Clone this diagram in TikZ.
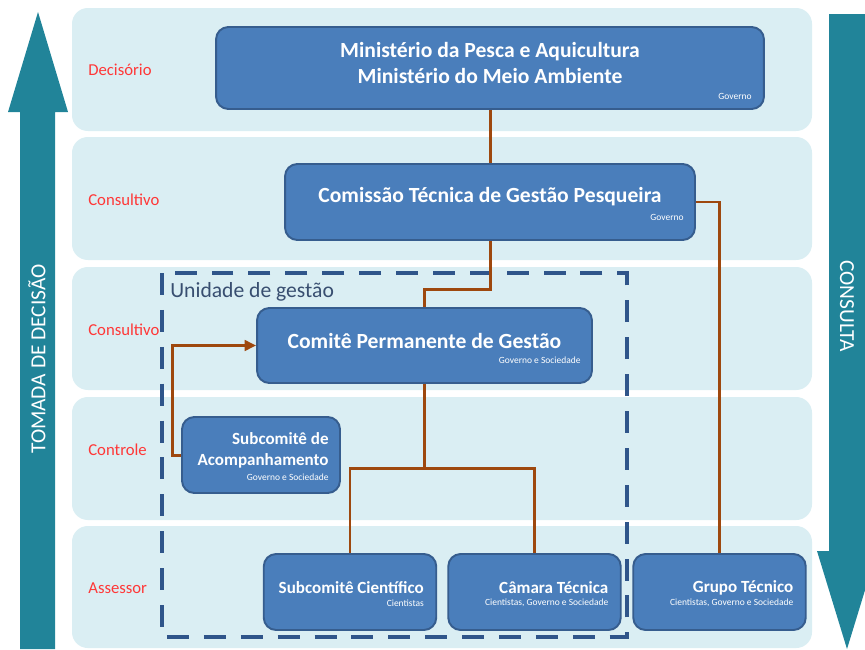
\documentclass[tikz,border=0pt]{standalone}
\usepackage{fontspec}
\setmainfont{Carlito}
\usepackage{tikz}
\usetikzlibrary{arrows.meta}
\definecolor{fundo}{RGB}{218,238,243}
\definecolor{azul}{RGB}{74,126,187}
\definecolor{borda}{RGB}{54,93,142}
\definecolor{seta}{RGB}{33,132,153}
\definecolor{marrom}{RGB}{158,72,14}
\definecolor{tracejado}{RGB}{47,85,138}
\definecolor{vermelho}{RGB}{255,55,55}
\definecolor{ugtexto}{RGB}{56,78,112}
\tikzstyle{faixa}=[fill=fundo, rounded corners=9pt]
\tikzstyle{caixa}=[draw=borda, fill=azul, line width=1.1pt, rounded corners=7pt, inner sep=0pt]
\tikzstyle{titulo}=[text=white, font=\bfseries\fontsize{12.3}{14.7}\selectfont, align=center, inner sep=0pt]
\tikzstyle{nome}=[text=white, font=\bfseries\fontsize{9.7}{11.9}\selectfont, align=right, inner sep=0pt, anchor=east]
\tikzstyle{quem}=[text=white, font=\fontsize{5.4}{6}\selectfont, inner sep=0pt, anchor=east]
\tikzstyle{nivel}=[text=vermelho, font=\fontsize{9.5}{10}\selectfont, inner sep=0pt, anchor=west]
\tikzstyle{lateral}=[text=white, font=\fontsize{12.2}{13}\selectfont, inner sep=0pt]
\tikzstyle{liga}=[draw=marrom, line width=1.7pt]

\begin{document}
\begin{tikzpicture}[x=0.02cm, y=-0.02cm]
    \clip (0,0) rectangle (865,649);

    % Faixas
    \foreach \a/\b in {8/131,137/260,267/390,397/520,526/648}
        \fill[faixa] (72,\a) rectangle (812,\b);

    % Niveis
    \foreach \y/\texto in {70/Decisório,200/Consultivo,330/Consultivo,450/Controle,588/Assessor}
        \node[nivel] (nivel\y) at (88,\y) {\texto};

    % Setas laterais
    \fill[seta] (20,649) -- (20,112) -- (8,112) -- (38,12) -- (68,112) -- (55,112) -- (55,649) -- cycle;
    \node[lateral, rotate=90] (tomada) at (37,359) {TOMADA DE DECISÃO};
    \fill[seta] (829,14) -- (865,14) -- (865,551) -- (877,551) -- (847,649) -- (817,551) -- (829,551) -- cycle;
    \node[lateral, rotate=-90] (consulta) at (847,306) {CONSULTA};

    % Unidade de gestao
    \draw[tracejado, line width=2.8pt, dash pattern=on 12.5pt off 8.5pt] (162,273) rectangle (627,637);
    \node[anchor=west, text=ugtexto, font=\fontsize{12.3}{13}\selectfont, inner sep=0pt] (ug) at (170,292) {Unidade de gestão};

    % Caixas
    \node[caixa, minimum width=10.96cm, minimum height=1.64cm] (min) at (490,68) {};
    \node[titulo] (min-t) at ([shift={(0,-5)}]min.center) {Ministério da Pesca e Aquicultura\\Ministério do Meio Ambiente};
    \node[quem] (min-q) at ([shift={(-13,-14)}]min.south east) {Governo};

    \node[caixa, minimum width=8.2cm, minimum height=1.52cm] (com) at (490,202) {};
    \node[titulo] (com-t) at ([shift={(0,-5)}]com.center) {Comissão Técnica de Gestão Pesqueira};
    \node[quem] (com-q) at ([shift={(-12,-24)}]com.south east) {Governo};

    \node[caixa, minimum width=6.7cm, minimum height=1.5cm] (cpg) at (424.5,345.5) {};
    \node[titulo] (cpg-t) at ([shift={(0,-4.5)}]cpg.center) {Comitê Permanente de Gestão};
    \node[quem] (cpg-q) at ([shift={(-12,-24)}]cpg.south east) {Governo e Sociedade};

    \node[caixa, minimum width=3.16cm, minimum height=1.52cm] (acomp) at (261,455) {};
    \node[nome, font=\bfseries\fontsize{9.7}{11.9}\selectfont] (acomp-t) at ([shift={(-12,-4.5)}]acomp.east) {Subcomitê de\\Acompanhamento};
    \node[quem] (acomp-q) at ([shift={(-12,22)}]acomp.east) {Governo e Sociedade};

    \foreach \cx/\x/\titulo/\sub in {cien/350/Subcomitê Científico/Cientistas,
        cam/534.5/Câmara Técnica/{Cientistas, Governo e Sociedade},
        grupo/719.5/Grupo Técnico/{Cientistas, Governo e Sociedade}} {
        \node[caixa, minimum width=3.45cm, minimum height=1.52cm] (\cx) at (\x,592) {};
        \node[nome] (\cx-t) at ([shift={(-13,-4)}]\cx.east) {\titulo};
        \node[quem] (\cx-q) at ([shift={(-13,11)}]\cx.east) {\sub};
    }

    % Ligacoes
    \draw[liga] (min) -- (com);
    \draw[liga] (com.south) -- ++(0,49) -| (cpg.north);
    \draw[liga] (cpg.south) -- ++(0,85) coordinate (ramo);
    \draw[liga] (ramo) -| (cien.north);
    \draw[liga] (ramo) -| (cam.north);
    \draw[liga] (com.east) -| (grupo.north);
    \draw[liga, -{Triangle[length=6.5pt,width=6pt]}] (acomp.west) -- ++(-9,0) |- (cpg.west);
\end{tikzpicture}
\end{document}
